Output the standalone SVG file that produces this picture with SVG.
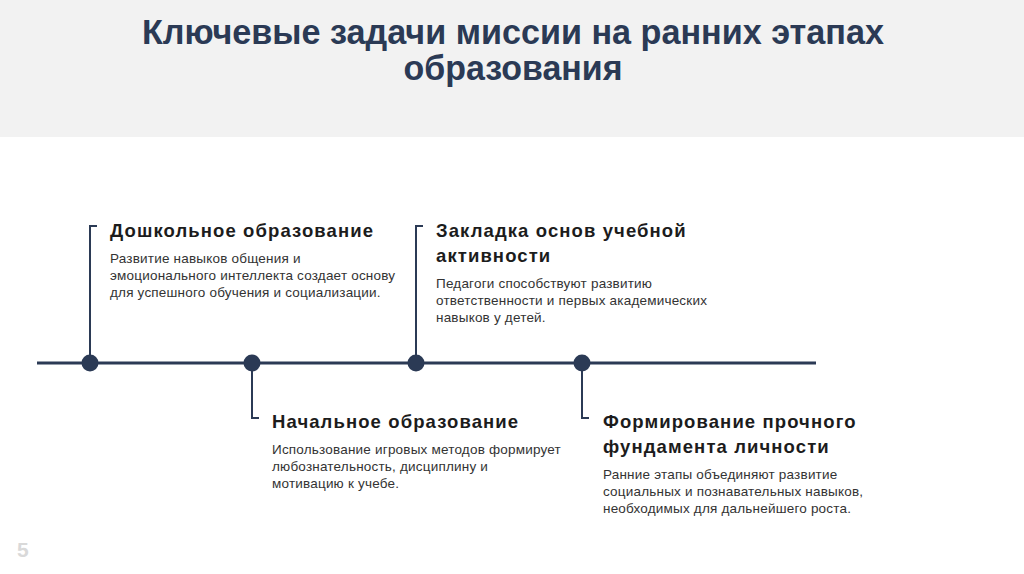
<svg xmlns="http://www.w3.org/2000/svg" width="1024" height="574" viewBox="0 0 1024 574">
<style>
.title{font-family:"Liberation Sans",Arial,sans-serif;font-weight:bold;font-size:35px;fill:#2b3a55;text-anchor:middle}
.h{font-family:"Liberation Sans",Arial,sans-serif;font-weight:bold;font-size:18.5px;fill:#1c1c1c;letter-spacing:1.1px}
.d{font-family:"Liberation Sans",Arial,sans-serif;font-size:13.5px;fill:#333333;letter-spacing:0.2px}
.ln{stroke:#2b3a55;stroke-width:2;fill:none}
.dot{fill:#2b3a55}
</style>
<rect x="0" y="0" width="1024" height="574" fill="#ffffff"/>
<rect x="0" y="0" width="1024" height="137" fill="#f2f2f2"/>
<text class="title" x="513" y="44" textLength="742" lengthAdjust="spacingAndGlyphs">Ключевые задачи миссии на ранних этапах</text>
<text class="title" x="513" y="80" textLength="219" lengthAdjust="spacingAndGlyphs">образования</text>
<g id="connectors">
<line class="ln" x1="37" y1="363" x2="816" y2="363" style="stroke-width:3"/>
<polyline class="ln" points="97,226 90,226 90,363"/>
<polyline class="ln" points="423,226 416,226 416,363"/>
<polyline class="ln" points="252,363 252,418 259,418"/>
<polyline class="ln" points="582,363 582,418 589,418"/>
</g>
<g id="dots">
<circle class="dot" cx="90" cy="363" r="8.5"/>
<circle class="dot" cx="252" cy="363" r="8.5"/>
<circle class="dot" cx="416" cy="363" r="8.5"/>
<circle class="dot" cx="582" cy="363" r="8.5"/>
</g>
<g id="n1">
<text class="h" x="110" y="237">Дошкольное образование</text>
<text class="d" x="110" y="263">Развитие навыков общения и</text>
<text class="d" x="110" y="280">эмоционального интеллекта создает основу</text>
<text class="d" x="110" y="297">для успешного обучения и социализации.</text>
</g>
<g id="n2">
<text class="h" x="436" y="237">Закладка основ учебной</text>
<text class="h" x="436" y="262">активности</text>
<text class="d" x="436" y="288">Педагоги способствуют развитию</text>
<text class="d" x="436" y="305">ответственности и первых академических</text>
<text class="d" x="436" y="322">навыков у детей.</text>
</g>
<g id="n3">
<text class="h" x="272" y="428">Начальное образование</text>
<text class="d" x="272" y="454">Использование игровых методов формирует</text>
<text class="d" x="272" y="471">любознательность, дисциплину и</text>
<text class="d" x="272" y="488">мотивацию к учебе.</text>
</g>
<g id="n4">
<text class="h" x="603" y="428">Формирование прочного</text>
<text class="h" x="603" y="453">фундамента личности</text>
<text class="d" x="603" y="479">Ранние этапы объединяют развитие</text>
<text class="d" x="603" y="496">социальных и познавательных навыков,</text>
<text class="d" x="603" y="513">необходимых для дальнейшего роста.</text>
</g>
<text x="17" y="557" font-family="Liberation Sans,Arial,sans-serif" font-weight="bold" font-size="21" fill="#d9d9d9">5</text>
</svg>
